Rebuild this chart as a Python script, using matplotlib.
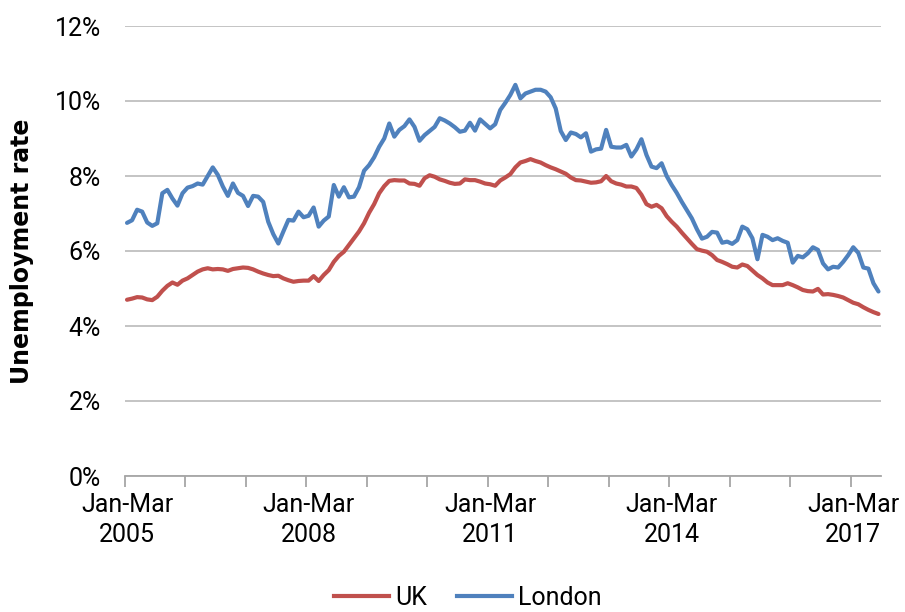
import matplotlib
matplotlib.use("Agg")
import matplotlib.pyplot as plt
from matplotlib.ticker import FixedLocator, FuncFormatter, NullFormatter
from matplotlib.lines import Line2D

# Rolling three-month unemployment rates (%), Jan-Mar 2005 onwards, monthly
uk_rate = [
    4.70, 4.73, 4.77, 4.76, 4.71, 4.69, 4.78, 4.94, 5.07, 5.16,
    5.10, 5.21, 5.27, 5.36, 5.45, 5.51, 5.54, 5.51, 5.52, 5.51,
    5.47, 5.52, 5.54, 5.56, 5.55, 5.51, 5.45, 5.40, 5.36, 5.33,
    5.34, 5.27, 5.22, 5.18, 5.20, 5.21, 5.21, 5.33, 5.20, 5.36,
    5.49, 5.71, 5.87, 5.98, 6.16, 6.34, 6.52, 6.74, 7.02, 7.25,
    7.54, 7.73, 7.87, 7.89, 7.88, 7.88, 7.80, 7.79, 7.74, 7.94,
    8.02, 7.98, 7.91, 7.87, 7.82, 7.79, 7.80, 7.91, 7.89, 7.89,
    7.85, 7.80, 7.78, 7.74, 7.88, 7.96, 8.05, 8.23, 8.36, 8.40,
    8.45, 8.40, 8.36, 8.29, 8.23, 8.18, 8.12, 8.06, 7.96, 7.89,
    7.88, 7.85, 7.82, 7.83, 7.86, 8.00, 7.86, 7.80, 7.77, 7.72,
    7.72, 7.68, 7.50, 7.25, 7.18, 7.23, 7.14, 6.93, 6.78, 6.65,
    6.49, 6.34, 6.19, 6.05, 6.01, 5.98, 5.89, 5.76, 5.71, 5.65,
    5.58, 5.56, 5.64, 5.60, 5.48, 5.36, 5.27, 5.16, 5.09, 5.09,
    5.09, 5.14, 5.09, 5.03, 4.96, 4.93, 4.92, 4.99, 4.84, 4.85,
    4.83, 4.80, 4.76, 4.69, 4.62, 4.58, 4.50, 4.43, 4.37, 4.32,
]

london_rate = [
    6.75, 6.82, 7.10, 7.05, 6.76, 6.67, 6.74, 7.54, 7.63, 7.40,
    7.21, 7.54, 7.69, 7.73, 7.80, 7.77, 8.00, 8.23, 8.03, 7.72,
    7.47, 7.80, 7.55, 7.47, 7.20, 7.47, 7.45, 7.31, 6.78, 6.45,
    6.20, 6.52, 6.83, 6.81, 7.05, 6.90, 6.94, 7.16, 6.65, 6.81,
    6.92, 7.76, 7.45, 7.70, 7.43, 7.45, 7.70, 8.14, 8.29, 8.50,
    8.78, 9.00, 9.40, 9.05, 9.23, 9.33, 9.51, 9.31, 8.94, 9.09,
    9.20, 9.31, 9.54, 9.48, 9.40, 9.30, 9.18, 9.21, 9.42, 9.21,
    9.51, 9.39, 9.27, 9.38, 9.76, 9.95, 10.16, 10.43, 10.07, 10.20,
    10.25, 10.30, 10.30, 10.25, 10.10, 9.80, 9.20, 8.96, 9.16, 9.12,
    9.03, 9.14, 8.65, 8.71, 8.73, 9.23, 8.78, 8.76, 8.76, 8.83,
    8.52, 8.71, 8.98, 8.56, 8.25, 8.21, 8.34, 8.00, 7.76, 7.55,
    7.31, 7.09, 6.87, 6.58, 6.33, 6.38, 6.51, 6.49, 6.22, 6.25,
    6.19, 6.29, 6.65, 6.58, 6.34, 5.78, 6.43, 6.38, 6.29, 6.34,
    6.27, 6.22, 5.69, 5.87, 5.83, 5.94, 6.10, 6.03, 5.67, 5.51,
    5.58, 5.56, 5.71, 5.89, 6.10, 5.95, 5.56, 5.53, 5.14, 4.92,
]

tick_labels = ["Jan-Mar\n2005", "Jan-Mar\n2008", "Jan-Mar\n2011",
               "Jan-Mar\n2014", "Jan-Mar\n2017"]
series_names = ["UK", "London"]

UK_RED = "#C0504D"
LONDON_BLUE = "#4F81BD"
GRID = "#BFBFBF"
AXIS = "#A6A6A6"

plt.rcParams["font.family"] = ["Liberation Sans Narrow", "Roboto", "DejaVu Sans"]

fig = plt.figure(figsize=(9.05, 6.12), dpi=100)
ax = fig.add_axes([124.5 / 905, 136 / 612, (881 - 124.5) / 905, 450 / 612])

n = len(uk_rate)
x = [i + 0.5 for i in range(n)]
ax.plot(x, uk_rate, color=UK_RED, lw=3.0, solid_joinstyle="round",
        solid_capstyle="round", zorder=3)
ax.plot(x, london_rate, color=LONDON_BLUE, lw=3.0, solid_joinstyle="round",
        solid_capstyle="round", zorder=4)

ax.set_xlim(0, n)
ax.set_ylim(0, 12)

# y axis: percentage labels, light horizontal gridlines
ax.set_yticks(range(0, 13, 2))
ax.yaxis.set_major_formatter(FuncFormatter(lambda v, p: f"{int(v)}%"))
ax.tick_params(axis="y", length=0, pad=17, labelsize=18, labelcolor="#000000")
ax.grid(axis="y", color=GRID, lw=1.3)
ax.set_axisbelow(True)

# x axis: tick marks every 12 months, labels every 36 months
ax.xaxis.set_major_locator(FixedLocator(list(range(0, n, 12))))
ax.xaxis.set_major_formatter(NullFormatter())
ax.xaxis.set_minor_locator(FixedLocator([0.5 + 36 * k for k in range(len(tick_labels))]))
ax.set_xticklabels(tick_labels, minor=True)
ax.tick_params(axis="x", which="major", length=8, width=1.3, color=AXIS, direction="out")
ax.tick_params(axis="x", which="minor", length=0, pad=12, labelsize=18)
for lbl in ax.get_xticklabels(minor=True):
    lbl.set_linespacing(1.35)

for side in ("left", "right", "top"):
    ax.spines[side].set_visible(False)
ax.spines["bottom"].set_color(AXIS)
ax.spines["bottom"].set_linewidth(1.3)

fig.text(22 / 905, 1 - 251 / 612, "Unemployment rate", rotation=90,
         ha="center", va="center", fontsize=17, fontweight="bold",
         family=["DejaVu Sans"])

handles = [Line2D([], [], color=UK_RED, lw=3.0),
           Line2D([], [], color=LONDON_BLUE, lw=3.0)]
fig.legend(handles, series_names, loc="center", ncol=2,
           bbox_to_anchor=(468 / 905, 1 - 598 / 612), frameon=False,
           fontsize=18, handlelength=2.2, handletextpad=0.25, columnspacing=1.2)

fig.savefig("out.png", dpi=100)
